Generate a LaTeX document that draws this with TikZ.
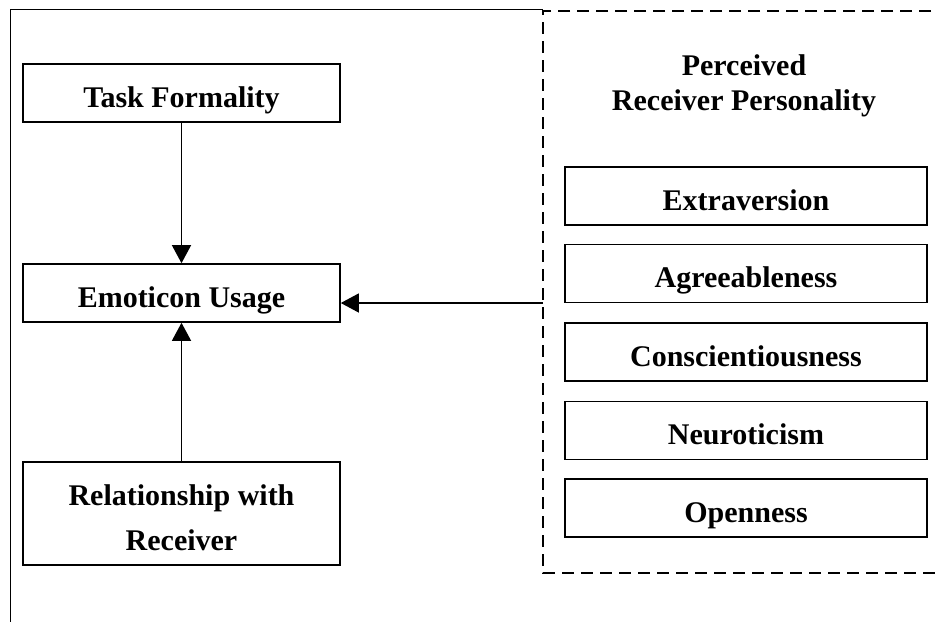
\documentclass[tikz,border=0pt]{standalone}
\usepackage{fontspec}
\setmainfont{Liberation Serif}
\usetikzlibrary{arrows.meta}
\begin{document}
\begin{tikzpicture}[x=1pt,y=-1pt,
  box/.style={draw,line width=1.6pt,minimum width=317pt,minimum height=58pt,inner sep=0pt,
    text height=30pt,text depth=2pt,font=\bfseries\fontsize{30}{36}\selectfont},
  tbox/.style={draw,line width=1.6pt,minimum width=362pt,minimum height=58pt,inner sep=0pt,
    text height=30pt,text depth=2pt,font=\bfseries\fontsize{30}{36}\selectfont},
  mbox/.style={draw,line width=1.6pt,minimum width=317pt,minimum height=103pt,inner sep=0pt,
    align=center,font=\bfseries\fontsize{30}{45}\selectfont},
  arr/.style={line width=1.3pt,-{Triangle[length=18pt,width=19pt]}},
  frame/.style={line width=1pt}]
\useasboundingbox (0,0) rectangle (938,622);
% outer frame
\draw[frame] (543,9) -- (10,9) -- (10,622);
% left column
\node[box] (tf) at (181.5,93) {Task Formality};
\node[box] (eu) at (181.5,293) {Emoticon Usage};
\node[mbox] (rel) at (181.5,513.5) {\rule{0pt}{28.5pt}Relationship with\\Receiver};
% dashed group
\draw[line width=1.5pt,dash pattern=on 12pt off 7pt] (950,11) -- (543,11) -- (543,573) -- (950,573);
\coordinate (pw) at (543,303);
\node[inner sep=0pt,align=center,font=\bfseries\fontsize{30}{35}\selectfont]
  (title) at (744,85.5) {Perceived\\Receiver Personality};
\node[tbox] (ex) at (746,196) {Extraversion};
\node[tbox] (ag) at (746,273.5) {Agreeableness};
\node[tbox] (co) at (746,352) {Conscientiousness};
\node[tbox] (ne) at (746,430.5) {Neuroticism};
\node[tbox] (op) at (746,508) {Openness};
% arrows
\draw[arr] (tf.south) -- (eu.north);
\draw[arr] (rel.north) -- (eu.south);
\draw[arr] (pw) -- (eu.east |- pw);
\end{tikzpicture}
\end{document}
